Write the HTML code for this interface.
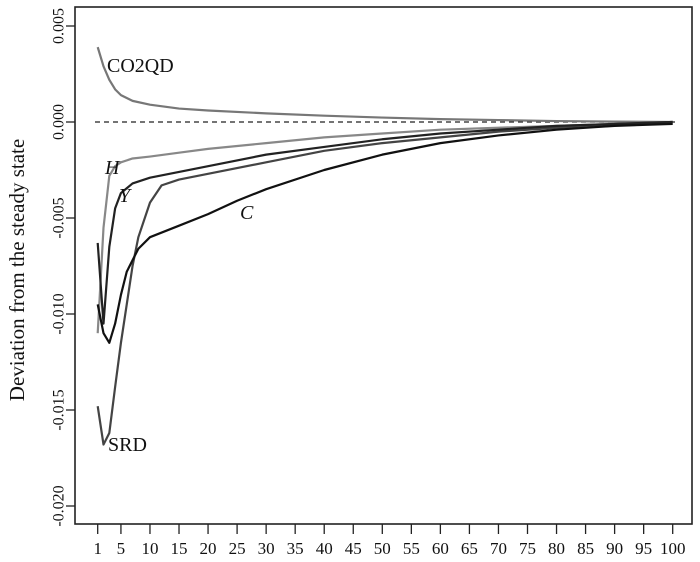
<!DOCTYPE html>
<html><head><meta charset="utf-8"><style>
body{margin:0;background:#fff}
svg{display:block;font-family:"Liberation Serif",serif}
</style></head><body>
<svg id="chart" width="700" height="562" viewBox="0 0 700 562"></svg>
<script>
const xTicks=[1,5,10,15,20,25,30,35,40,45,50,55,60,65,70,75,80,85,90,95,100];
const yTicks=[0.005,0,-0.005,-0.010,-0.015,-0.020];
const yTickLabels=["0.005","0.000","-0.005","-0.010","-0.015","-0.020"];
const tCO2=[1,2,3,4,5,7,10,15,20,30,40,50,60,70,80,90,100];
const vCO2=[0.0039,0.0029,0.0022,0.0017,0.0014,0.0011,0.0009,0.0007,0.0006,0.00045,0.00033,0.00023,0.00015,0.0001,0.00005,0.00002,0];
const tH=[1,2,3,4,5,7,10,15,20,30,40,50,60,70,80,90,100];
const vH=[-0.011,-0.0055,-0.0028,-0.0023,-0.0021,-0.0019,-0.0018,-0.0016,-0.0014,-0.0011,-0.0008,-0.0006,-0.0004,-0.0003,-0.0002,-0.0001,0];
const tY=[1,2,3,4,5,7,10,15,20,30,40,50,60,70,80,90,100];
const vY=[-0.0063,-0.0105,-0.0065,-0.0045,-0.0037,-0.0032,-0.0029,-0.0026,-0.0023,-0.0017,-0.0013,-0.0009,-0.0006,-0.0004,-0.0002,-0.0001,0];
const tSRD=[1,2,3,4,5,6,7,8,10,12,15,20,30,40,50,60,70,80,90,100];
const vSRD=[-0.0148,-0.0168,-0.0162,-0.0138,-0.0115,-0.0095,-0.0075,-0.006,-0.0042,-0.0033,-0.003,-0.0027,-0.0021,-0.0015,-0.0011,-0.0008,-0.0005,-0.0003,-0.0001,0];
const tC=[1,2,3,4,5,6,8,10,15,20,25,30,40,50,60,70,80,90,100];
const vC=[-0.0095,-0.011,-0.0115,-0.0105,-0.009,-0.0078,-0.0066,-0.006,-0.0054,-0.0048,-0.0041,-0.0035,-0.0025,-0.0017,-0.0011,-0.0007,-0.0004,-0.0002,-0.0001];

const svg=document.getElementById('chart');
const NS='http://www.w3.org/2000/svg';
const L=75,R=692,T=7,B=524;
const x=t=>97.7+(t-1)*(575/99);
const y=v=>122-v*19200;
function mk(tag,attrs,parent){const e=document.createElementNS(NS,tag);for(const k in attrs)e.setAttribute(k,attrs[k]);(parent||svg).appendChild(e);return e;}

const frame=mk('rect',{x:L,y:T,width:R-L,height:B-T,fill:'none',stroke:'#222','stroke-width':1.6});



yTicks.forEach((v,i)=>{
  const tk=mk('line',{x1:L-9,x2:L,y1:y(v),y2:y(v),stroke:'#222','stroke-width':1.3});
  
  
  const tx=mk('text',{x:L-16,y:y(v),'font-size':16,'text-anchor':'middle',transform:`rotate(-90 ${L-16} ${y(v)})`,'dominant-baseline':'central',fill:'#111'});
  tx.textContent=yTickLabels[i];
  
  
});
xTicks.forEach(t=>{
  const tk=mk('line',{x1:x(t),x2:x(t),y1:B,y2:B+10,stroke:'#222','stroke-width':1.3});
  
  
  const tx=mk('text',{x:x(t),y:554,'font-size':17,'text-anchor':'middle',fill:'#111'});
  tx.textContent=t;
  
  
});
const yt=mk('text',{x:24,y:270,'font-size':21,'text-anchor':'middle',transform:'rotate(-90 24 270)',fill:'#111'});
yt.textContent='Deviation from the steady state';



const zl=mk('line',{x1:95,x2:675,y1:y(0),y2:y(0),stroke:'#222','stroke-width':1.3,'stroke-dasharray':'5,4'});



function series(ts,vs,col,name){
  const p=mk('polyline',{points:ts.map((t,i)=>x(t)+','+y(vs[i])).join(' '),fill:'none',stroke:col,'stroke-width':2.2,'stroke-linejoin':'round'});
  
  
}
series(tCO2,vCO2,'#777','co2qd-line');
series(tH,vH,'#888','h-line');
series(tSRD,vSRD,'#444','srd-line');
series(tY,vY,'#222','y-line');
series(tC,vC,'#111','c-line');

function lab(txt,lx,ly,it,name){
  const e=mk('text',{x:lx,y:ly,'font-size':20,fill:'#111','font-style':it?'italic':'normal'});
  e.textContent=txt;
  
  
}
lab('CO2QD',107,72,false,'co2qd-label');
lab('H',105,174,true,'h-label');
lab('Y',119,202,true,'y-label');
lab('C',240,219,true,'c-label');
lab('SRD',108,451,false,'srd-label');
</script>
</body></html>
